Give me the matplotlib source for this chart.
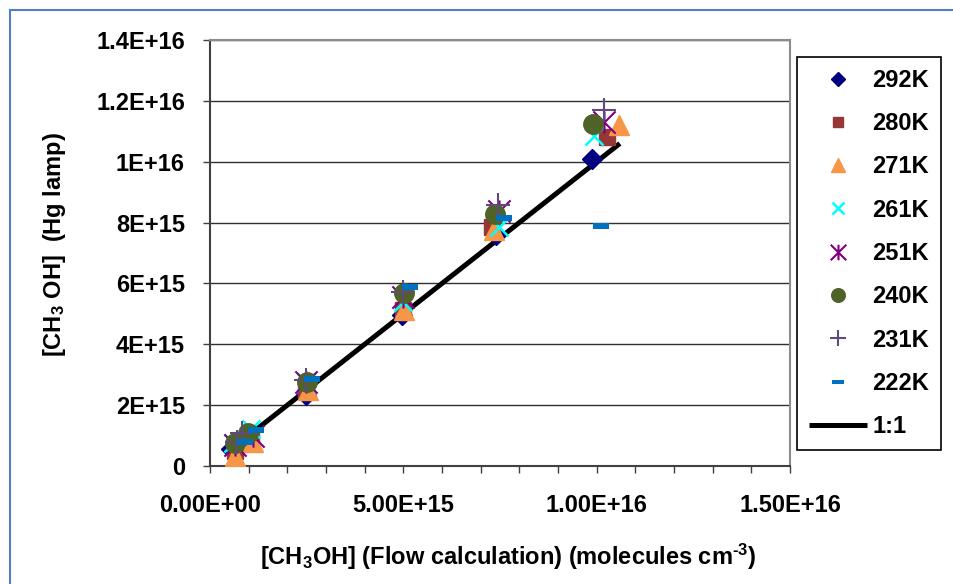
"""
CH3OH calibration plot: Hg lamp absorption vs flow calculation at several temperatures.
"""

import numpy as np
import matplotlib
matplotlib.use('Agg')
import matplotlib.pyplot as plt
from matplotlib.path import Path
from matplotlib.patches import Rectangle
from matplotlib.ticker import MultipleLocator


# Data (molecules cm-3)
labels = ['292K', '280K', '271K', '261K', '251K', '240K', '231K', '222K']

x_292 = [0.55e15, 1.00e15, 2.49e15, 4.96e15, 7.39e15, 9.88e15]
y_292 = [0.55e15, 0.90e15, 2.34e15, 4.97e15, 7.60e15, 10.10e15]

x_280 = [0.65e15, 1.05e15, 2.49e15, 4.98e15, 7.30e15, 10.27e15]
y_280 = [0.50e15, 0.95e15, 2.50e15, 5.13e15, 7.85e15, 10.80e15]

x_271 = [0.65e15, 1.12e15, 2.53e15, 5.03e15, 7.35e15, 10.57e15]
y_271 = [0.33e15, 0.80e15, 2.50e15, 5.13e15, 7.76e15, 11.20e15]

x_261 = [0.60e15, 1.05e15, 2.49e15, 4.98e15, 7.47e15, 9.92e15]
y_261 = [0.75e15, 1.20e15, 2.77e15, 5.40e15, 7.87e15, 10.83e15]

x_251 = [0.65e15, 1.10e15, 2.49e15, 4.98e15, 7.47e15, 10.18e15]
y_251 = [0.70e15, 1.00e15, 2.77e15, 5.57e15, 8.37e15, 11.30e15]

x_240 = [0.64e15, 0.99e15, 2.50e15, 5.03e15, 7.37e15, 9.90e15]
y_240 = [0.75e15, 1.08e15, 2.77e15, 5.68e15, 8.29e15, 11.25e15]

x_231 = [0.69e15, 0.82e15, 2.49e15, 4.98e15, 7.46e15, 10.18e15]
y_231 = [0.80e15, 1.07e15, 2.83e15, 5.73e15, 8.58e15, 11.70e15]

x_222 = [0.90e15, 1.20e15, 2.65e15, 5.18e15, 7.60e15, 10.11e15]
y_222 = [0.80e15, 1.18e15, 2.85e15, 5.87e15, 8.15e15, 7.90e15]

# 1:1 reference line
x_line = [0.70e15, 1.06e16]
y_line = [0.70e15, 1.06e16]

x_ticks = [0, 5e15, 1e16, 1.5e16]
x_ticklabels = ['0.00E+00', '5.00E+15', '1.00E+16', '1.50E+16']
y_ticks = [0, 2e15, 4e15, 6e15, 8e15, 1e16, 1.2e16, 1.4e16]
y_ticklabels = ['0', '2E+15', '4E+15', '6E+15', '8E+15', '1E+16', '1.2E+16', '1.4E+16']


# Excel-like markers that matplotlib lacks
STAR = Path([(-1, -1), (1, 1), (-1, 1), (1, -1), (0, -1), (0, 1)],
            [Path.MOVETO, Path.LINETO, Path.MOVETO, Path.LINETO, Path.MOVETO, Path.LINETO])
DASH = Path([(-1, -0.38), (1, -0.38), (1, 0.38), (-1, 0.38), (-1, -0.38)],
            [Path.MOVETO, Path.LINETO, Path.LINETO, Path.LINETO, Path.CLOSEPOLY])


def main():
    plt.rcParams['font.family'] = ['Liberation Sans', 'DejaVu Sans']
    plt.rcParams['font.weight'] = 'bold'
    plt.rcParams['mathtext.fontset'] = 'custom'
    plt.rcParams['mathtext.rm'] = 'Liberation Sans:bold'
    plt.rcParams['mathtext.bf'] = 'Liberation Sans:bold'
    plt.rcParams['mathtext.default'] = 'bf'

    fig = plt.figure(figsize=(9.54, 5.84), dpi=100)
    ax = fig.add_axes([210 / 954, 1 - 466 / 584, 580 / 954, 426 / 584])

    # chart area border (blue, cut off at right/bottom like the original)
    fig.patches.append(Rectangle((10 / 954, -0.1), 1.2, 1.1 - 10 / 584,
                                 transform=fig.transFigure, fill=False,
                                 edgecolor='#4F81BD', linewidth=1.5))

    series = [
        (x_292, y_292, dict(marker='D', ms=10, color='#000080', ls='none')),
        (x_280, y_280, dict(marker='s', ms=11, color='#953735', ls='none')),
        (x_271, y_271, dict(marker='^', ms=14, color='#F79646', ls='none')),
        (x_261, y_261, dict(marker='x', ms=13, mew=1.8, color='#00FFFF', ls='none')),
        (x_251, y_251, dict(marker=STAR, ms=16, mew=1.5, color='#7F007F', ls='none', fillstyle='none')),
        (x_240, y_240, dict(marker='o', ms=14, color='#4F6228', ls='none')),
        (x_231, y_231, dict(marker='+', ms=17, mew=1.5, color='#604A7B', ls='none')),
        (x_222, y_222, dict(marker=DASH, ms=12, mew=0, color='#0070C0', ls='none')),
    ]

    for (xs, ys, style), lab in zip(series, labels):
        ax.plot(xs, ys, label=lab, zorder=3, **style)

    ax.plot(x_line, y_line, color='black', lw=3.6, label='1:1', zorder=2,
            solid_capstyle='butt')

    # axes limits and ticks
    ax.set_xlim(0, 1.5e16)
    ax.set_ylim(0, 1.4e16)
    ax.set_xticks(x_ticks)
    ax.set_xticklabels(x_ticklabels)
    ax.xaxis.set_minor_locator(MultipleLocator(1e15))
    ax.set_yticks(y_ticks)
    ax.set_yticklabels(y_ticklabels)
    ax.tick_params(axis='both', which='both', direction='out', length=5,
                   width=1, color='#404040', labelsize=17, pad=13)
    ax.tick_params(axis='x', which='both', pad=15)

    ax.grid(axis='y', color='#303030', lw=1)
    ax.set_axisbelow(True)

    for side in ['top', 'right']:
        ax.spines[side].set_color('#8C8C8C')
        ax.spines[side].set_linewidth(1.5)
    for side in ['left', 'bottom']:
        ax.spines[side].set_color('#404040')
        ax.spines[side].set_linewidth(1.5)

    # axis titles
    fig.text(55 / 954, 1 - 245 / 584, r'[CH$_3$ OH]  (Hg lamp)', rotation=90,
             ha='center', va='center', fontsize=17, fontweight='bold')
    fig.text(508 / 954, 1 - 557 / 584,
             r'[CH$_3$OH] (Flow calculation) (molecules cm$^{\text{-3}}$)',
             ha='center', va='center', fontsize=17, fontweight='bold')

    leg = fig.legend(loc='upper left', bbox_to_anchor=(797 / 954, 1 - 57 / 584),
                     fontsize=17, frameon=True, fancybox=False, framealpha=1,
                     edgecolor='black', markerscale=0.7, labelspacing=0.86,
                     handlelength=2.45, handletextpad=0.25, borderpad=0.5,
                     borderaxespad=0)
    leg.get_frame().set_linewidth(1.2)

    plt.savefig('out.png', dpi=100)


if __name__ == "__main__":
    main()
